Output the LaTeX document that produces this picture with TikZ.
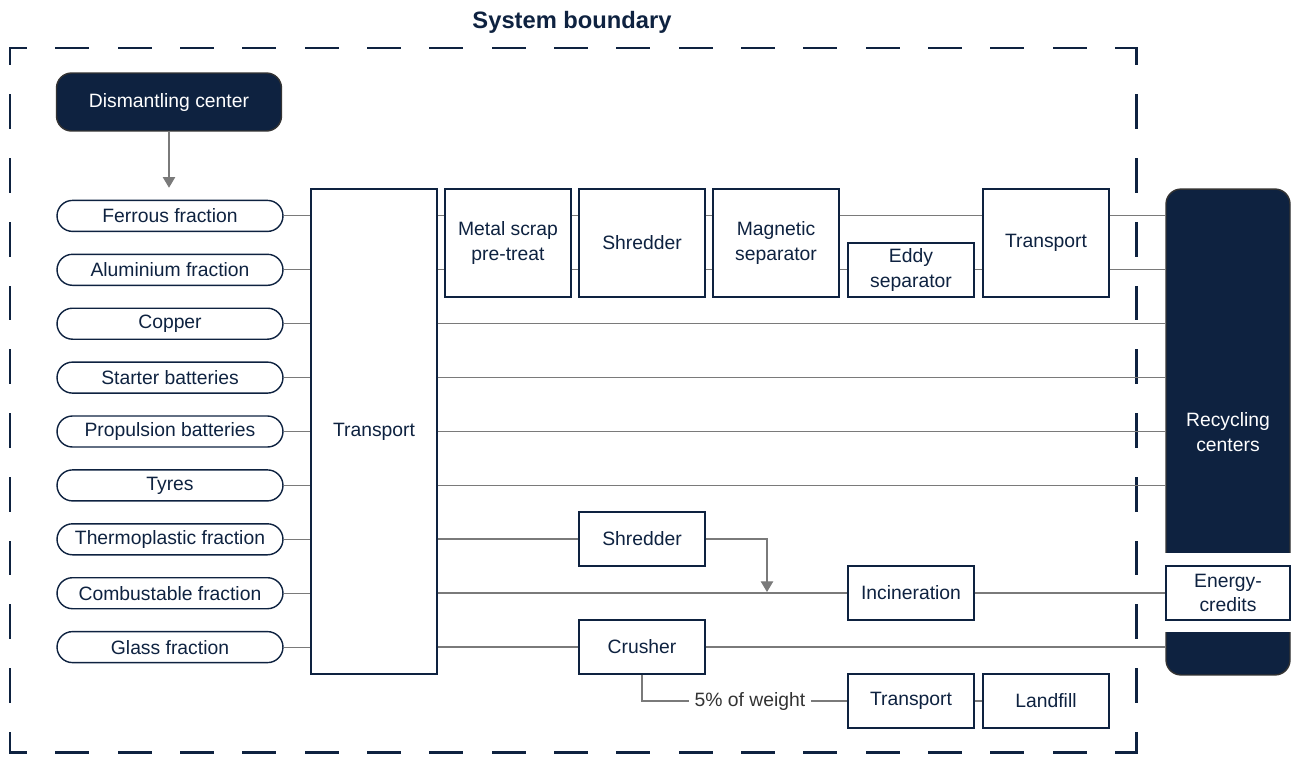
\documentclass[tikz,border=0pt]{standalone}
\usepackage{fontspec}
\setmainfont{Liberation Sans}
\usepackage{xcolor}
\usepackage{tikz}
\usetikzlibrary{arrows.meta}

\definecolor{navy}{HTML}{0E2240}
\definecolor{linegray}{HTML}{7A7A7A}
\newcommand{\diafont}{\fontsize{11}{14}\selectfont}

\tikzset{
  box/.style={draw=navy, line width=0.8pt, text=navy, fill=white, align=center,
    minimum width=2.52cm, minimum height=2.16cm, inner sep=0pt, font=\diafont},
  smallbox/.style={box, minimum height=1.08cm},
  pill/.style={draw=navy, line width=0.8pt, text=navy, rounded corners=0.31cm,
    minimum width=4.52cm, minimum height=0.62cm, inner sep=0pt, font=\diafont},
  dark/.style={fill=navy, draw=black!80, line width=0.8pt, text=white, align=center,
    rounded corners=0.3cm, inner sep=0pt, font=\diafont},
  link/.style={draw=linegray, line width=0.6pt},
  flow/.style={link, -{Triangle[width=7pt,length=6pt]}},
  bound/.style={draw=navy, line width=1.7pt, line cap=rect},
}

\begin{document}
\begin{tikzpicture}[x=0.02cm, y=-0.02cm]
\useasboundingbox (0,0) rectangle (1291,758);

% System boundary
\node[text=navy, font=\fontsize{13.5}{16}\selectfont\bfseries] (title) at (572,22) {System boundary};
\coordinate (bnw) at (10,48);
\coordinate (bne) at (1136,48);
\coordinate (bsw) at (10,752);
\coordinate (bse) at (1136,752);
\draw[bound, dash pattern=on 17.74pt off 17.74pt, dash phase=8.87pt] (bnw) -- (bne);
\draw[bound, dash pattern=on 17.74pt off 17.74pt, dash phase=8.87pt] (bsw) -- (bse);
\draw[bound, dash pattern=on 18.14pt off 18.14pt, dash phase=9.07pt] (bnw) -- (bsw);
\draw[bound, dash pattern=on 18.14pt off 18.14pt, dash phase=9.07pt] (bne) -- (bse);

% Dismantling center and fractions
\node[dark, minimum width=4.5cm, minimum height=1.16cm] (dc) at (169,102) {Dismantling center};
\foreach \i/\t in {1/Ferrous fraction, 2/Aluminium fraction, 3/Copper,
    4/Starter batteries, 5/Propulsion batteries, 6/Tyres,
    7/Thermoplastic fraction, 8/Combustable fraction, 9/Glass fraction} {
  \node[pill] (f\i) at (170,{162+53.9*\i}) {\t};
}
\draw[flow, shorten >=0.24cm] (dc.south) -- (dc.south |- f1.north);

% Transport
\node[box, minimum height=9.7cm] (tr) at (374,431.5) {Transport};
\foreach \i in {1,...,9} {
  \draw[link] (f\i.east) -- (f\i.east -| tr.west);
}

% Metal line
\node[box] (ms) at (508,243) {Metal scrap\\pre-treat};
\node[box] (shr) at (642,243) {Shredder};
\node[box] (mag) at (776,243) {Magnetic\\separator};
\node[smallbox] (eddy) at (911,270) {Eddy\\separator};
\node[box] (tp) at (1046,243) {Transport};

% Recycling centers
\node[dark, minimum width=2.48cm, minimum height=9.72cm] (rc) at (1228,432) {Recycling\\centers};
\fill[white] (1164,553) rectangle (1292,632);
\node[smallbox, minimum width=2.48cm] (ec) at (1228,593) {Energy-\\credits};

\foreach \i in {1,2} {
  \draw[link] (tr.east |- f\i) -- (ms.west |- f\i);
  \draw[link] (ms.east |- f\i) -- (shr.west |- f\i);
  \draw[link] (shr.east |- f\i) -- (mag.west |- f\i);
  \draw[link] (tp.east |- f\i) -- (rc.west |- f\i);
}
\draw[link] (mag.east |- f1) -- (tp.west |- f1);
\draw[link] (mag.east |- f2) -- (eddy.west |- f2);
\draw[link] (eddy.east |- f2) -- (tp.west |- f2);
\foreach \i in {3,...,6} {
  \draw[link] (tr.east |- f\i) -- (rc.west |- f\i);
}

% Plastics, combustables, glass
\node[smallbox] (shr2) at (642,539) {Shredder};
\node[smallbox] (inc) at (911,593) {Incineration};
\node[smallbox] (cr) at (642,647) {Crusher};
\node[smallbox] (tp2) at (911,701) {Transport};
\node[smallbox] (lf) at (1046,701) {Landfill};
\node[text=black!80, font=\diafont, inner sep=3pt] (wt) at (750,701) {5\% of weight};
\coordinate (join) at (767,592);

\draw[link] (tr.east |- shr2.west) -- (shr2.west);
\draw[flow] (shr2.east) -| (join);
\draw[link] (tr.east |- inc.west) -- (inc.west);
\draw[link] (inc.east) -- (ec.west);
\draw[link] (tr.east |- cr.west) -- (cr.west);
\draw[link] (cr.east) -- (rc.west |- cr.east);
\draw[link] (cr.south) |- (wt.west);
\draw[link] (wt.east) -- (tp2.west);
\draw[link] (tp2.east) -- (lf.west);
\end{tikzpicture}
\end{document}
